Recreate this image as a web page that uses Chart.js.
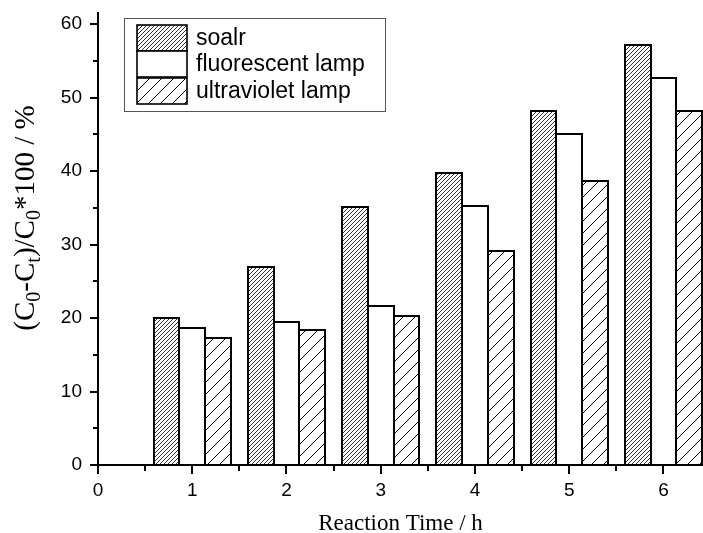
<!DOCTYPE html>
<html>
<head>
<meta charset="utf-8">
<script src="https://cdn.jsdelivr.net/npm/chart.js@4"></script>
<style>
  html, body { margin: 0; padding: 0; background: #fff; }
</style>
</head>
<body>
<canvas id="myChart" width="703" height="533"></canvas>
<script>
// data
const times = [1, 2, 3, 4, 5, 6];
const solar = [20.0, 27.0, 35.1, 39.7, 48.1, 57.2];
const fluorescent = [18.7, 19.5, 21.7, 35.3, 45.1, 52.7];
const ultraviolet = [17.3, 18.4, 20.3, 29.1, 38.6, 48.1];
const seriesNames = ["soalr", "fluorescent lamp", "ultraviolet lamp"];
const xTicks = [0, 1, 2, 3, 4, 5, 6];
const yTicks = [0, 10, 20, 30, 40, 50, 60];

const ctx = document.getElementById("myChart").getContext("2d");

// diagonal hatch patterns
function hatch(step, lw) {
  const c = document.createElement("canvas");
  c.width = step;
  c.height = step;
  const g = c.getContext("2d");
  g.fillStyle = "#fff";
  g.fillRect(0, 0, step, step);
  g.strokeStyle = "#000";
  g.lineWidth = lw;
  g.beginPath();
  g.moveTo(-1, step + 1);
  g.lineTo(step + 1, -1);
  g.moveTo(-1, 1);
  g.lineTo(1, -1);
  g.moveTo(step - 1, step + 1);
  g.lineTo(step + 1, step - 1);
  g.stroke();
  return ctx.createPattern(c, "repeat");
}
const denseHatch = hatch(4, 0.8);
const sparseHatch = hatch(12, 1);

const toPoints = (arr) => arr.map((v, i) => ({ x: times[i], y: v }));

// white page
const bgPlugin = {
  id: "bg",
  beforeDraw(chart) {
    const c = chart.ctx;
    c.save();
    c.fillStyle = "#fff";
    c.fillRect(0, 0, chart.width, chart.height);
    c.restore();
  },
};

// crisp black outlines on the bars chart.js laid out
const outlines = {
  id: "outlines",
  afterDatasetsDraw(chart) {
    const c = chart.ctx;
    c.save();
    c.strokeStyle = "#000";
    c.lineWidth = 2;
    chart.data.datasets.forEach((ds, i) => {
      chart.getDatasetMeta(i).data.forEach((el) => {
        const l = Math.round(el.x - el.width / 2);
        const r = Math.round(el.x + el.width / 2);
        const t = Math.round(el.y);
        const b = Math.round(el.base);
        c.strokeRect(l, t, r - l, b - t);
      });
    });
    c.restore();
  },
};

// major + minor tick marks (outside), axis titles, legend box
const decor = {
  id: "decor",
  afterDraw(chart) {
    const c = chart.ctx;
    const xs = chart.scales.x;
    const ys = chart.scales.y;
    const area = chart.chartArea;
    c.save();
    c.strokeStyle = "#000";
    c.lineWidth = 2;
    c.beginPath();
    xTicks.forEach((v) => {
      const px = Math.round(xs.getPixelForValue(v));
      c.moveTo(px, area.bottom);
      c.lineTo(px, area.bottom + 9);
      const mx = Math.round(xs.getPixelForValue(v + 0.5));
      if (v + 0.5 <= xs.max) {
        c.moveTo(mx, area.bottom);
        c.lineTo(mx, area.bottom + 6);
      }
    });
    yTicks.forEach((v) => {
      const py = Math.round(ys.getPixelForValue(v));
      c.moveTo(area.left, py);
      c.lineTo(area.left - 8, py);
      if (v + 5 <= ys.max) {
        const my = Math.round(ys.getPixelForValue(v + 5));
        c.moveTo(area.left, my);
        c.lineTo(area.left - 5, my);
      }
    });
    c.stroke();

    // x title
    c.fillStyle = "#000";
    c.font = "23px 'Liberation Serif', 'Times New Roman', serif";
    c.textAlign = "center";
    c.textBaseline = "alphabetic";
    c.fillText("Reaction Time / h", (area.left + area.right) / 2, 530);

    // y title with subscripts
    const fs = 29;
    const big = fs + "px 'Liberation Serif', 'Times New Roman', serif";
    const small = Math.round(fs * 0.68) + "px 'Liberation Serif', 'Times New Roman', serif";
    const parts = [
      ["(C", 0], ["0", 1], ["-C", 0], ["t", 1], [")/C", 0], ["0", 1], ["*100 / %", 0],
    ];
    let total = 0;
    parts.forEach((p) => {
      c.font = p[1] ? small : big;
      total += c.measureText(p[0]).width;
    });
    c.translate(34, 218);
    c.rotate(-Math.PI / 2);
    c.textAlign = "left";
    let x = -total / 2;
    parts.forEach((p) => {
      c.font = p[1] ? small : big;
      c.fillText(p[0], x, p[1] ? fs * 0.2 : 0);
      x += c.measureText(p[0]).width;
    });
    c.setTransform(1, 0, 0, 1, 0, 0);

    // legend
    c.strokeStyle = "#555";
    c.lineWidth = 1;
    c.strokeRect(124.5, 18.5, 261, 93);
    const rowTop = [25, 51, 78];
    const rowH = 26;
    chart.data.datasets.forEach((ds, i) => {
      c.fillStyle = ds.backgroundColor;
      c.fillRect(137, rowTop[i], 50, rowH);
      c.strokeStyle = "#000";
      c.lineWidth = 1.6;
      c.strokeRect(137, rowTop[i], 50, rowH);
      c.fillStyle = "#000";
      c.font = "23px 'Liberation Sans', Arial, sans-serif";
      c.textAlign = "left";
      c.textBaseline = "middle";
      c.fillText(ds.label, 196, rowTop[i] + rowH / 2 + 1);
    });
    c.restore();
  },
};

const tickFont = { family: "'Liberation Sans', Arial, sans-serif", size: 19 };

const barStyle = {
  borderWidth: 0,
  inflateAmount: 0.5,
};

new Chart(ctx, {
  type: "bar",
  data: {
    datasets: [
      Object.assign({ label: seriesNames[0], data: toPoints(solar), backgroundColor: denseHatch }, barStyle),
      Object.assign({ label: seriesNames[1], data: toPoints(fluorescent), backgroundColor: "#fff" }, barStyle),
      Object.assign({ label: seriesNames[2], data: toPoints(ultraviolet), backgroundColor: sparseHatch }, barStyle),
    ],
  },
  options: {
    responsive: false,
    animation: false,
    layout: { padding: { top: 13, right: 0, left: 0, bottom: 0 } },
    datasets: {
      bar: { categoryPercentage: 0.82, barPercentage: 1.0 },
    },
    scales: {
      x: {
        type: "linear",
        offset: false,
        min: 0,
        max: 6.42,
        afterFit(s) {
          s.height = 68;
          s.paddingLeft = 0;
          s.paddingRight = 0;
        },
        grid: { display: false, drawTicks: false, offset: false },
        border: { display: true, color: "#000", width: 2 },
        ticks: {
          stepSize: 1,
          includeBounds: false,
          autoSkip: false,
          maxRotation: 0,
          padding: 14,
          color: "#000",
          font: tickFont,
        },
      },
      y: {
        min: 0,
        max: 61.5,
        afterFit(s) {
          s.width = 98;
          s.paddingTop = 0;
          s.paddingBottom = 0;
        },
        grid: { display: false, drawTicks: false },
        border: { display: true, color: "#000", width: 2 },
        ticks: {
          stepSize: 10,
          includeBounds: false,
          padding: 16,
          color: "#000",
          font: tickFont,
        },
      },
    },
    plugins: {
      legend: { display: false },
      tooltip: { enabled: false },
    },
  },
  plugins: [bgPlugin, outlines, decor],
});
</script>
</body>
</html>
